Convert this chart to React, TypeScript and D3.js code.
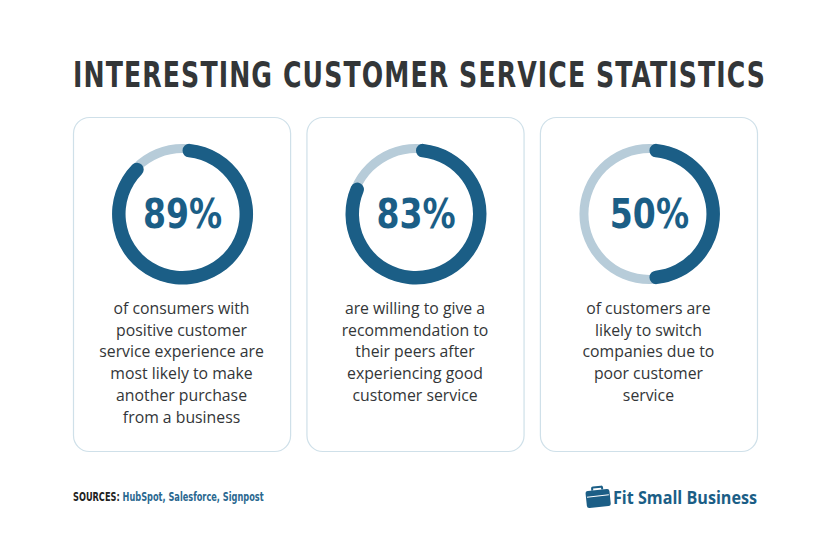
import React from "react";
import * as d3 from "d3";

const titleText = "INTERESTING CUSTOMER SERVICE STATISTICS";
const percents = [89, 83, 50];
const descriptions = [
  ["of consumers with", "positive customer", "service experience are", "most likely to make", "another purchase", "from a business"],
  ["are willing to give a", "recommendation to", "their peers after", "experiencing good", "customer service"],
  ["of customers are", "likely to switch", "companies due to", "poor customer", "service"],
];
const sourcesLabel = "SOURCES:";
const sourcesList = "HubSpot, Salesforce, Signpost";
const brandName = "Fit Small Business";

const W = 830;
const H = 554;
const DARK = "#1b5e86";
const LIGHT = "#b7ccd9";
const TEXT = "#333638";
const NARROW = "'DejaVu Sans Condensed', sans-serif";

export default function App() {
  const cardX = d3.scaleBand<number>().domain(d3.range(percents.length)).range([73, 757]).paddingInner(0.07);
  const angle = d3.scaleLinear().domain([0, 100]).range([0, 2 * Math.PI]);
  const bgArc = d3.arc<any>().innerRadius(61).outerRadius(70).startAngle(0).endAngle(2 * Math.PI);
  const valArc = d3.arc<any>().innerRadius(57).outerRadius(70.5).cornerRadius(6.7).startAngle(0);
  const tS = 0.8;
  const pS = 0.92;
  const sS = 0.73;

  return (
    <svg width={W} height={H} style={{ position: "absolute", left: 0, top: 0, background: "#fff" }}>
      <rect x={0} y={0} width={W} height={H} fill="#fff" />
      <g transform={`scale(${tS},1)`}>
        <text
          x={73 / tS}
          y={87}
          textLength={692 / tS}
          lengthAdjust="spacing"
          fontFamily={NARROW}
          fontWeight={700}
          fontSize={35}
          fill={TEXT}
        >
          {titleText}
        </text>
      </g>
      {percents.map((p, i) => {
        const x0 = cardX(i)!;
        const w = cardX.bandwidth();
        const cx = x0 + w / 2 + 1;
        const cy = 214;
        return (
          <g key={i}>
            <rect x={x0 + 0.5} y={117.5} width={w} height={334} rx={16} fill="#fff" stroke="#cfe0e9" strokeWidth={1.2} />
            <g transform={`translate(${cx},${cy})`}>
              <path d={bgArc({})!} fill={LIGHT} />
              <path d={valArc({ endAngle: angle(p) } as any)!} fill={DARK} />
              <g transform={`scale(${pS},1)`}>
                <text
                  x={0}
                  y={14}
                  textAnchor="middle"
                  fontFamily={NARROW}
                  fontWeight={700}
                  fontSize={40}
                  fill={DARK}
                >
                  {p}%
                </text>
              </g>
            </g>
            {descriptions[i].map((line, j) => (
              <text
                key={j}
                x={x0 + w / 2}
                y={314 + j * 21.7}
                textAnchor="middle"
                fontFamily="'Open Sans', sans-serif"
                fontSize={15.8}
                fill={TEXT}
              >
                {line}
              </text>
            ))}
          </g>
        );
      })}
      <g transform={`scale(${sS},1)`}>
        <text x={73 / sS} y={501} fontFamily={NARROW} fontWeight={700} fontSize={12.5}>
          <tspan fill="#222">{sourcesLabel} </tspan>
          <tspan fill="#2a6890">{sourcesList}</tspan>
        </text>
      </g>
      <g transform="translate(586,487)">
        <path d="M7,3 L7,0.8 Q7,0 8,0 L16,0 Q17,0 17,0.8 L17,3" fill="none" stroke={DARK} strokeWidth={2} transform="rotate(-6,12,10)" />
        <rect x={0} y={3} width={24} height={17} rx={2.5} fill={DARK} transform="rotate(-6,12,10)" />
        <path d="M1,9 L23,9" stroke="#fff" strokeWidth={1} transform="rotate(-6,12,10)" />
      </g>
      <text
        x={613}
        y={504}
        fontFamily="'Open Sans', sans-serif"
        fontWeight={700}
        fontSize={17}
        fill={DARK}
        textLength={144}
        lengthAdjust="spacingAndGlyphs"
      >
        {brandName}
      </text>
    </svg>
  );
}
